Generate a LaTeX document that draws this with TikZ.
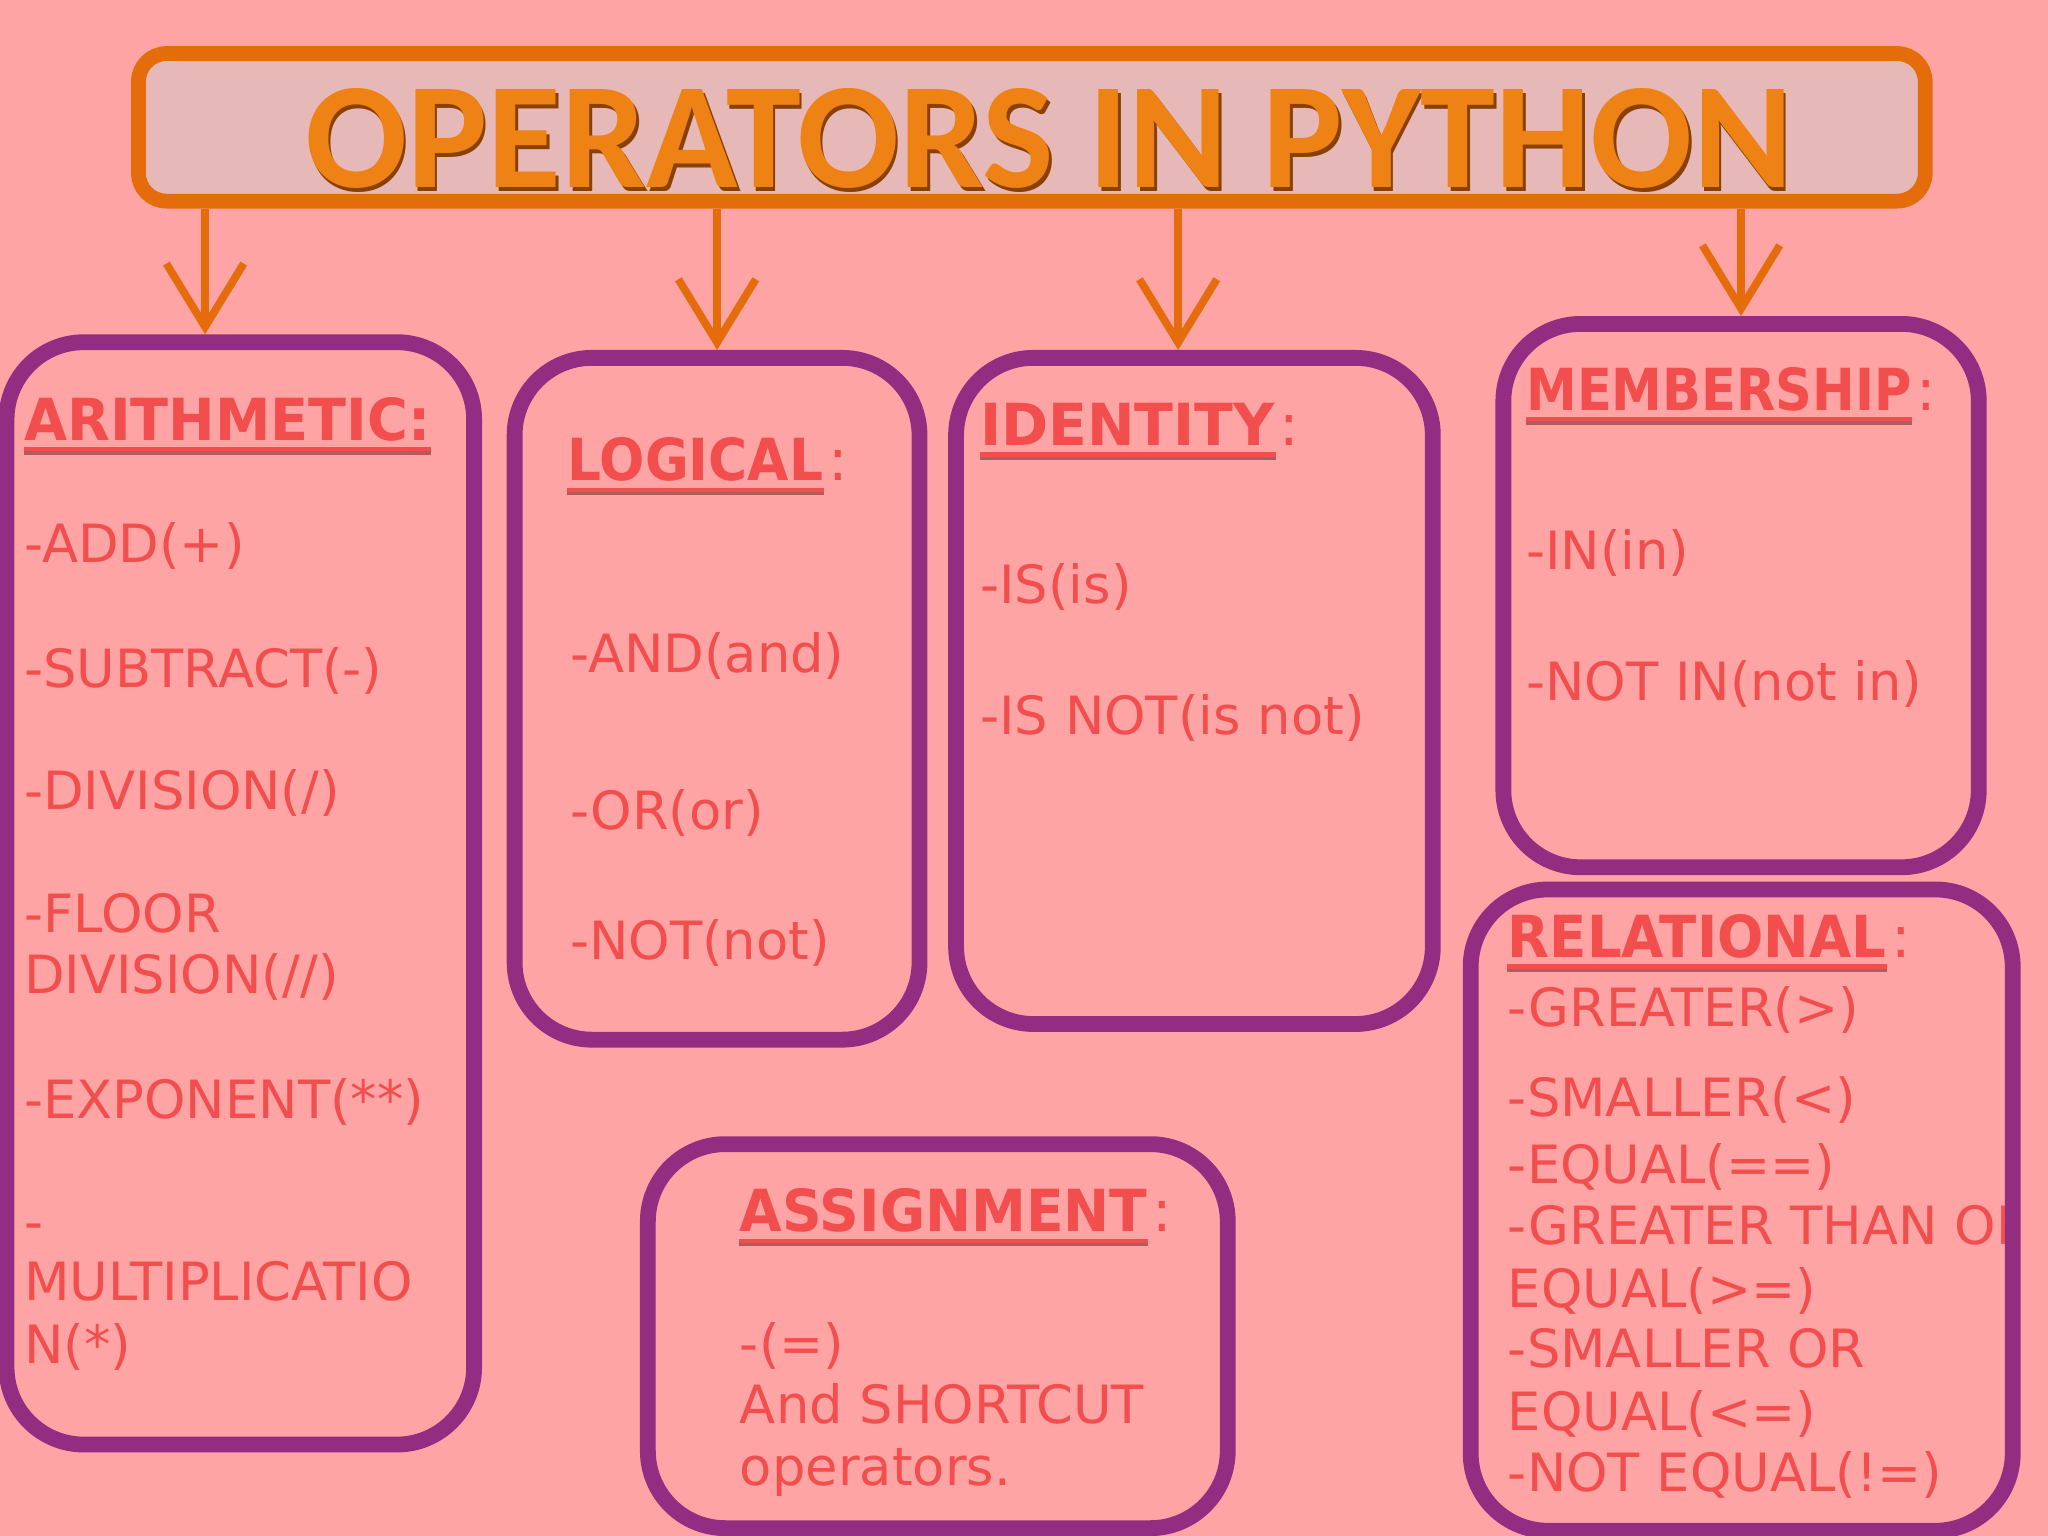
\documentclass[tikz,border=0pt]{standalone}
\usepackage{fontspec}
\setmainfont{DejaVu Sans}
\newfontfamily\titlefont{Carlito}
\usepackage{xcolor}
\usepackage{graphicx}
\usepackage{tikz}
\usetikzlibrary{arrows.meta, positioning, fit}

\definecolor{slidepink}{HTML}{FFA4A4}
\definecolor{titlefill}{HTML}{E6B8B8}
\definecolor{titleorange}{HTML}{E46C0A}
\definecolor{titletext}{HTML}{EE8214}
\definecolor{titleshade}{HTML}{8A4000}
\definecolor{boxpurple}{HTML}{922D82}
\definecolor{opred}{HTML}{F24E4E}
\definecolor{headshade}{HTML}{B05C5C}

\begin{document}
\begin{tikzpicture}[x=0.013061cm, y=-0.013061cm]
    % Define styles
    \tikzstyle{titlebox} = [rectangle, rounded corners=8pt, draw=titleorange, line width=4.2pt, fill=titlefill, inner sep=0pt]
    \tikzstyle{opbox} = [rectangle, rounded corners=22pt, draw=boxpurple, line width=4.5pt, fill=slidepink, inner sep=0pt]
    \tikzstyle{head} = [anchor=base west, inner sep=0pt, text=opred, font=\bfseries\fontsize{16.5}{18}\selectfont]
    \tikzstyle{colon} = [anchor=base west, inner sep=0pt, text=opred, font=\fontsize{16.5}{18}\selectfont]
    \tikzstyle{item} = [anchor=base west, inner sep=0pt, text=opred, font=\fontsize{15}{18}\selectfont]
    \tikzstyle{uline} = [draw=opred, line width=1.2pt]
    \tikzstyle{ushadow} = [draw=headshade, line width=1.2pt]
    \tikzstyle{arrow} = [draw=titleorange, line width=2.2pt, -{Straight Barb[length=18pt, width=22pt]}]

    % Slide background
    \useasboundingbox[fill=slidepink] (0,0) rectangle (1568,1176);

    % Title
    \node[titlebox, fit={(106,41) (1474,154)}] (title) {};
    \node[text=titleshade, font=\titlefont\bfseries\fontsize{43}{45}\selectfont] at (805,109) {OPERATORS IN PYTHON};
    \node[text=titletext, font=\titlefont\bfseries\fontsize{43}{45}\selectfont] (titletext) at (803,106) {OPERATORS IN PYTHON};

    % Operator boxes
    \node[opbox, fit={(5,262) (363,1106)}] (arith) {};
    \node[opbox, fit={(394,274) (704,796)}] (logical) {};
    \node[opbox, fit={(732,274) (1097,784)}] (identity) {};
    \node[opbox, fit={(1151,248) (1515,664)}] (member) {};
    \node[opbox, fit={(1126,681) (1541,1172)}] (relational) {};
    \node[opbox, fit={(496,876) (940,1170)}] (assign) {};

    % Arrows from title
    \coordinate (arithdrop) at (157,0);
    \coordinate (identdrop) at (902,0);
    \draw[arrow] (title.south -| arithdrop) -- (arith.north -| arithdrop);
    \draw[arrow] (title.south -| logical.north) -- (logical.north);
    \draw[arrow] (title.south -| identdrop) -- (identity.north -| identdrop);
    \draw[arrow] (title.south -| member.north) -- (member.north);

    % Arithmetic
    \node[head] (arithhead) at (18,337) {\scalebox{0.96}[1]{ARITHMETIC:}};
    \draw[ushadow] ([yshift=-3.6pt]arithhead.base west) -- ([yshift=-3.6pt]arithhead.base east);
    \draw[uline] ([yshift=-2.6pt]arithhead.base west) -- ([yshift=-2.6pt]arithhead.base east);
    \node[item] (addop) at (18,431) {-ADD(+)};
    \node[item] (subop) at (18,526) {-SUBTRACT(-)};
    \node[item] (divop) at (18,620) {-DIVISION(/)};
    \node[item] (floorop) at (18,714) {-FLOOR};
    \node[item] (floorop2) at (18,761) {DIVISION(//)};
    \node[item] (expop) at (18,856) {-EXPONENT(**)};
    \node[item] (mulop) at (18,950) {-};
    \node[item] (mulop2) at (18,996) {MULTIPLICATIO};
    \node[item] (mulop3) at (18,1044) {N(*)};

    % Logical
    \node[head] (loghead) at (434,368) {\scalebox{0.92}[1]{LOGICAL}};
    \node[colon] at ([xshift=1pt]loghead.base east) {:};
    \draw[ushadow] ([yshift=-3.6pt]loghead.base west) -- ([yshift=-3.6pt]loghead.base east);
    \draw[uline] ([yshift=-2.6pt]loghead.base west) -- ([yshift=-2.6pt]loghead.base east);
    \node[item] (andop) at (436,515) {-AND(and)};
    \node[item] (orop) at (436,635) {-OR(or)};
    \node[item] (notop) at (436,735) {-NOT(not)};

    % Identity
    \node[head] (idhead) at (750,341) {\scalebox{0.98}[1]{IDENTITY}};
    \node[colon] at ([xshift=1pt]idhead.base east) {:};
    \draw[ushadow] ([yshift=-3.6pt]idhead.base west) -- ([yshift=-3.6pt]idhead.base east);
    \draw[uline] ([yshift=-2.6pt]idhead.base west) -- ([yshift=-2.6pt]idhead.base east);
    \node[item] (isop) at (750,462) {-IS(is)};
    \node[item] (isnotop) at (750,562) {-IS NOT(is not)};

    % Membership
    \node[head] (memhead) at (1168,314) {\scalebox{0.88}[1]{MEMBERSHIP}};
    \node[colon] at ([xshift=1pt]memhead.base east) {:};
    \draw[ushadow] ([yshift=-3.6pt]memhead.base west) -- ([yshift=-3.6pt]memhead.base east);
    \draw[uline] ([yshift=-2.6pt]memhead.base west) -- ([yshift=-2.6pt]memhead.base east);
    \node[item] (inop) at (1168,436) {-IN(in)};
    \node[item] (notinop) at (1168,536) {-NOT IN(not in)};

    % Relational
    \node[head] (relhead) at (1154,733) {\scalebox{0.94}[1]{RELATIONAL}};
    \node[colon] at ([xshift=1pt]relhead.base east) {:};
    \draw[ushadow] ([yshift=-3.6pt]relhead.base west) -- ([yshift=-3.6pt]relhead.base east);
    \draw[uline] ([yshift=-2.6pt]relhead.base west) -- ([yshift=-2.6pt]relhead.base east);
    \begin{scope}
        \clip (relational.north west) rectangle ([xshift=-4.5pt]relational.south east);
        \node[item] (gtop) at (1154,786) {-GREATER(>)};
        \node[item] (ltop) at (1154,855) {-SMALLER(<)};
        \node[item] (eqop) at (1154,906) {-EQUAL(==)};
        \node[item] (geop) at (1154,953) {-GREATER THAN OR};
        \node[item] (geop2) at (1154,1001) {EQUAL(>=)};
        \node[item] (leop) at (1154,1047) {-SMALLER OR};
        \node[item] (leop2) at (1154,1095) {EQUAL(<=)};
        \node[item] (neop) at (1154,1142) {-NOT EQUAL(!=)};
    \end{scope}

    % Assignment
    \node[head] (ashead) at (566,943) {\scalebox{0.95}[1]{ASSIGNMENT}};
    \node[colon] at ([xshift=1pt]ashead.base east) {:};
    \draw[ushadow] ([yshift=-3.6pt]ashead.base west) -- ([yshift=-3.6pt]ashead.base east);
    \draw[uline] ([yshift=-2.6pt]ashead.base west) -- ([yshift=-2.6pt]ashead.base east);
    \node[item] (asop) at (566,1043) {-(=)};
    \node[item] (asop2) at (566,1090) {And SHORTCUT};
    \node[item] (asop3) at (566,1137) {operators.};

\end{tikzpicture}
\end{document}
